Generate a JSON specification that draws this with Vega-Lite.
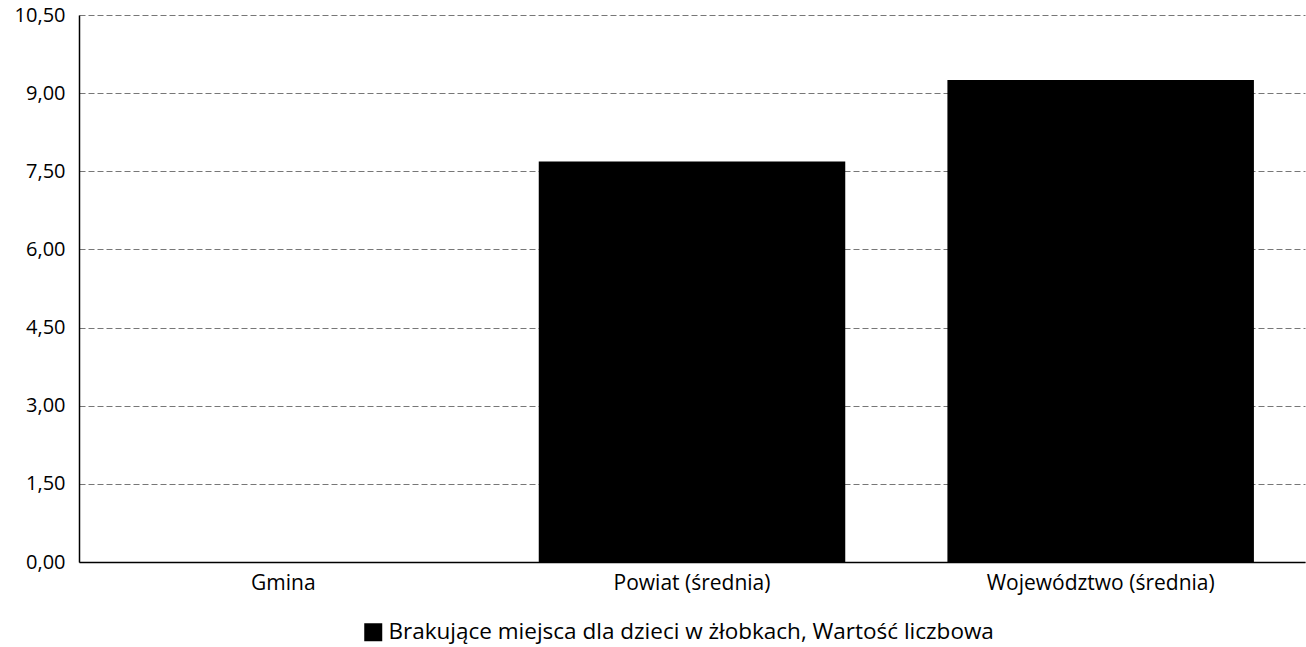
{
  "$schema": "https://vega.github.io/schema/vega-lite/v6.json",
  "width": 1226,
  "height": 547,
  "autosize": {"type": "none"},
  "padding": {"left": 79, "top": 15, "right": 1, "bottom": 85},
  "background": "white",
  "data": {"values": [
    {"kategoria": "Gmina", "wartosc": 0, "seria": "Brakujące miejsca dla dzieci w żłobkach, Wartość liczbowa"},
    {"kategoria": "Powiat (średnia)", "wartosc": 7.69, "seria": "Brakujące miejsca dla dzieci w żłobkach, Wartość liczbowa"},
    {"kategoria": "Województwo (średnia)", "wartosc": 9.25, "seria": "Brakujące miejsca dla dzieci w żłobkach, Wartość liczbowa"}
  ]},
  "mark": {"type": "bar"},
  "encoding": {
    "x": {
      "field": "kategoria", "type": "nominal", "sort": null,
      "scale": {"paddingInner": 0.25, "paddingOuter": 0.125},
      "axis": {"title": null, "labelAngle": 0, "ticks": false, "domain": true, "domainColor": "#000", "domainWidth": 1.5,
               "labelFont": "Open Sans", "labelFontSize": 21, "labelColor": "#000", "labelPadding": 10, "labelLimit": 400}
    },
    "y": {
      "field": "wartosc", "type": "quantitative",
      "scale": {"domain": [0, 10.5], "nice": false},
      "axis": {"title": null, "values": [0, 1.5, 3, 4.5, 6, 7.5, 9, 10.5],
               "labelExpr": "replace(format(datum.value, '.2f'), '.', ',')",
               "ticks": false, "domain": true, "domainColor": "#000", "domainWidth": 1.5,
               "grid": true, "gridColor": "#777", "gridDash": [6, 3], "gridWidth": 1,
               "labelFont": "Open Sans", "labelFontSize": 20, "labelColor": "#000", "labelPadding": 14}
    },
    "color": {
      "field": "seria", "type": "nominal",
      "scale": {"range": ["#000000"]},
      "legend": {"title": null, "orient": "none", "legendX": 283, "legendY": 606, "symbolType": "square", "symbolSize": 324,
                 "labelFont": "Open Sans", "labelFontSize": 22.5, "labelColor": "#000", "labelLimit": 900}
    }
  },
  "config": {"view": {"stroke": null}}
}
